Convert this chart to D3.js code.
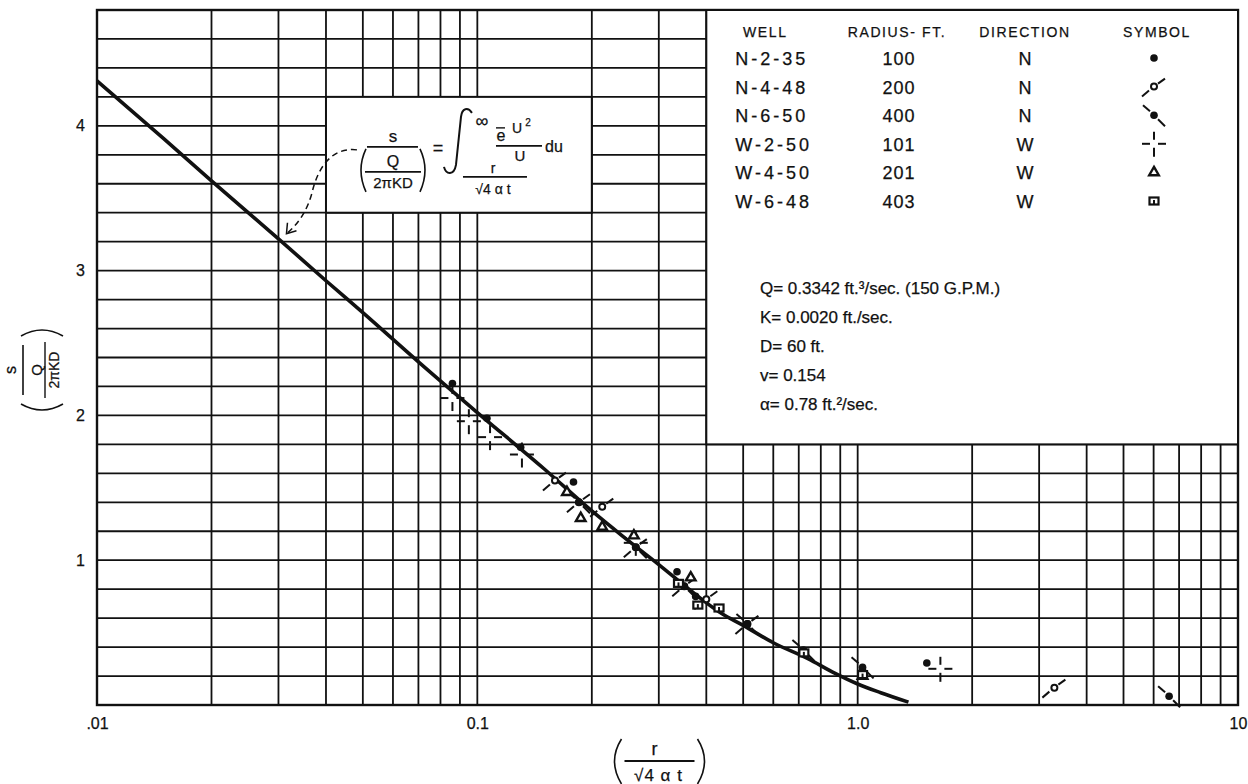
<!DOCTYPE html>
<html>
<head>
<meta charset="utf-8">
<script src="https://cdn.jsdelivr.net/npm/d3@7"></script>
<style>
body { margin: 0; background: #fff; }
text { font-family: "Liberation Sans", "DejaVu Sans", sans-serif; fill: #111; stroke: #111; stroke-width: 0.25; }
</style>
</head>
<body>
<div id="chart"></div>
<script>
// Legend table of the observation wells.
const wells = ["N-2-35", "N-4-48", "N-6-50", "W-2-50", "W-4-50", "W-6-48"];
const radii = ["100", "200", "400", "101", "201", "403"];
const directions = ["N", "N", "N", "W", "W", "W"];
const symbols = ["dot", "circleSlash", "dotBackslash", "cross", "triangle", "square"];

// Type curve (x = r/sqrt(4at), y = s/(Q/2piKD)).
const curveX = [0.01, 0.015, 0.02, 0.03, 0.04, 0.05, 0.07, 0.1, 0.15, 0.2, 0.24, 0.3, 0.36, 0.44, 0.5, 0.6, 0.74, 0.87, 1.0, 1.15, 1.36];
const curveY = [4.31, 3.91, 3.62, 3.22, 2.93, 2.71, 2.37, 2.02, 1.63, 1.34, 1.17, 0.97, 0.80, 0.63, 0.55, 0.43, 0.32, 0.22, 0.145, 0.085, 0.02];

// Observed points for each well, [x, y].
const n235 = [[0.086, 2.22], [0.106, 1.98], [0.130, 1.78], [0.179, 1.54], [0.335, 0.92], [0.375, 0.75], [1.03, 0.24], [1.52, 0.29]];
const n448 = [[0.160, 1.55], [0.185, 1.40], [0.213, 1.37], [0.261, 1.09], [0.350, 0.82], [0.400, 0.73], [0.513, 0.56], [3.29, 0.12]];
const n650 = [[0.185, 1.40], [0.261, 1.09], [0.350, 0.82], [0.513, 0.56], [0.72, 0.38], [1.03, 0.26], [6.59, 0.06]];
const w250 = [[0.086, 2.12], [0.095, 1.96], [0.108, 1.85], [0.131, 1.73], [0.261, 1.12], [1.65, 0.25]];
const w450 = [[0.172, 1.47], [0.187, 1.29], [0.213, 1.23], [0.258, 1.17], [0.364, 0.88], [1.03, 0.20]];
const w648 = [[0.338, 0.84], [0.380, 0.69], [0.432, 0.67], [0.722, 0.36], [1.03, 0.21]];
const wellPoints = [n235, n448, n650, w250, w450, w648];

// Axis ticks.
const xTicks = [0.01, 0.1, 1, 10];
const xTickLabels = [".01", "0.1", "1.0", "10"];
const yTicks = [1, 2, 3, 4];

// Well constants printed on the chart.
const constants = ["Q= 0.3342 ft.³/sec. (150 G.P.M.)", "K= 0.0020 ft./sec.", "D= 60 ft.", "v= 0.154", "α= 0.78 ft.²/sec."];

const width = 1248;
const height = 784;
const margin = { top: 10, right: 10, bottom: 79, left: 97 };

const svg = d3.select("#chart")
    .append("svg")
    .attr("width", width)
    .attr("height", height);

svg.append("rect").attr("width", width).attr("height", height).attr("fill", "#fff");

const x = d3.scaleLog()
    .domain([0.01, 10])
    .range([margin.left, width - margin.right]);

const y = d3.scaleLinear()
    .domain([0, 4.8])
    .range([height - margin.bottom, margin.top]);

// Log paper grid.
const xGrid = [];
[0.01, 0.1, 1].forEach(function(dec) {
    for (let k = 1; k < 10; k++) xGrid.push(k * dec);
});
xGrid.push(10);
const yGrid = d3.range(0, 4.81, 0.2);

const grid = svg.append("g").attr("stroke", "#111").attr("stroke-width", 1.8);
grid.selectAll(".vx")
    .data(xGrid)
    .join("line")
    .attr("x1", d => x(d)).attr("x2", d => x(d))
    .attr("y1", y(0)).attr("y2", y(4.8));
grid.selectAll(".hy")
    .data(yGrid)
    .join("line")
    .attr("x1", x(0.01)).attr("x2", x(10))
    .attr("y1", d => y(d)).attr("y2", d => y(d));

// Frame.
svg.append("rect")
    .attr("x", x(0.01)).attr("y", y(4.8))
    .attr("width", x(10) - x(0.01)).attr("height", y(0) - y(4.8))
    .attr("fill", "none").attr("stroke", "#111").attr("stroke-width", 2.4);

// White boxes for the legend table and the formula.
svg.append("rect")
    .attr("x", x(0.4)).attr("y", y(4.8))
    .attr("width", x(10) - x(0.4)).attr("height", y(1.8) - y(4.8))
    .attr("fill", "#fff").attr("stroke", "#111").attr("stroke-width", 2);
svg.append("rect")
    .attr("x", x(0.04)).attr("y", y(4.2))
    .attr("width", x(0.2) - x(0.04)).attr("height", y(3.4) - y(4.2))
    .attr("fill", "#fff").attr("stroke", "#111").attr("stroke-width", 2);

// Type curve.
const line = d3.line()
    .x(d => x(d[0]))
    .y(d => y(d[1]))
    .curve(d3.curveMonotoneX);
svg.append("path")
    .datum(curveX.map((v, i) => [v, curveY[i]]))
    .attr("d", line)
    .attr("fill", "none")
    .attr("stroke", "#111")
    .attr("stroke-width", 3.6);

// Draw one symbol of a given type centred at cx, cy.
function drawSymbol(parent, type, cx, cy) {
    const g = parent.append("g")
        .attr("transform", `translate(${cx},${cy})`)
        .attr("stroke", "#111").attr("stroke-width", 2).attr("fill", "#111");
    function seg(a, b, c, d) {
        g.append("line").attr("x1", a).attr("y1", b).attr("x2", c).attr("y2", d);
    }
    if (type === "dot") {
        g.append("circle").attr("r", 3.8).attr("stroke", "none");
    } else if (type === "circleSlash") {
        seg(-12, 10, -5, 4);
        seg(4, -3, 11, -8);
        g.append("circle").attr("r", 3).attr("fill", "#fff");
    } else if (type === "dotBackslash") {
        seg(-11, -10, -4, -4);
        seg(4, 4, 11, 11);
        g.append("circle").attr("r", 3.8).attr("stroke", "none");
    } else if (type === "cross") {
        seg(-12, 0, -4, 0);
        seg(4, 0, 12, 0);
        seg(0, -12, 0, -4);
        seg(0, 4, 0, 13);
    } else if (type === "triangle") {
        g.append("path").attr("d", d3.symbol(d3.symbolTriangle, 40)()).attr("fill", "#fff").attr("stroke-width", 2.4);
    } else if (type === "square") {
        g.append("rect").attr("x", -4.5).attr("y", -3.5).attr("width", 9).attr("height", 7).attr("fill", "#fff").attr("stroke-width", 2.2);
        seg(0, -1, 0, 3);
    }
}

// Observed points.
const pts = svg.append("g");
wellPoints.forEach(function(series, i) {
    series.forEach(function(p) {
        drawSymbol(pts, symbols[i], x(p[0]), y(p[1]));
    });
});

// Legend table.
const lg = svg.append("g");
const colWell = x(0.4) + 29;
const colRadius = 899;
const colDir = 1025;
const colSym = 1154;
const headY = 37;
const rowY = i => 65 + i * 28.6;
[["WELL", colWell + 30], ["RADIUS- FT.", colRadius - 2], ["DIRECTION", colDir], ["SYMBOL", colSym + 3]].forEach(function(h) {
    lg.append("text").attr("x", h[1]).attr("y", headY)
        .attr("text-anchor", "middle").attr("font-size", 14).attr("letter-spacing", 1.6)
        .text(h[0]);
});
wells.forEach(function(w, i) {
    lg.append("text").attr("x", colWell).attr("y", rowY(i))
        .attr("font-size", 18).attr("letter-spacing", 3).text(w);
    lg.append("text").attr("x", colRadius).attr("y", rowY(i))
        .attr("text-anchor", "middle").attr("font-size", 18).attr("letter-spacing", 1).text(radii[i]);
    lg.append("text").attr("x", colDir).attr("y", rowY(i))
        .attr("text-anchor", "middle").attr("font-size", 18).text(directions[i]);
    drawSymbol(lg, symbols[i], colSym, rowY(i) - 7);
});

// Well constants.
constants.forEach(function(c, i) {
    svg.append("text")
        .attr("x", 760).attr("y", 294 + i * 29)
        .attr("font-size", 17)
        .text(c);
});

// Formula inside its box.
const fx = x(0.04);
const fy = y(4.2);
const fm = svg.append("g").attr("transform", `translate(${fx},${fy})`);
function ftext(tx, ty, size, str, anchor) {
    return fm.append("text").attr("x", tx).attr("y", ty).attr("font-size", size)
        .attr("text-anchor", anchor || "middle").text(str);
}
function fline(a, b, c, d, w) {
    fm.append("line").attr("x1", a).attr("y1", b).attr("x2", c).attr("y2", d)
        .attr("stroke", "#111").attr("stroke-width", w || 1.6);
}
ftext(67, 45, 17, "s");
fline(41, 50, 92, 50);
ftext(67, 70, 16, "Q");
fline(39, 75, 95, 75);
ftext(67, 91, 15, "2πKD");
fm.append("path").attr("d", "M40,52 Q30,73 40,95").attr("fill", "none").attr("stroke", "#111").attr("stroke-width", 1.6);
fm.append("path").attr("d", "M94,52 Q104,73 94,95").attr("fill", "none").attr("stroke", "#111").attr("stroke-width", 1.6);
ftext(112, 57, 18, "=");
fm.append("path").attr("d", "M118,70 C120,78 128,79 130,68 L135,20 C136,11 142,10 146,16")
    .attr("fill", "none").attr("stroke", "#111").attr("stroke-width", 2);
ftext(156, 30, 18, "∞");
ftext(175, 44, 16, "e");
fline(170, 31, 179, 31, 1.4);
ftext(191, 36, 14, "U");
ftext(202, 29, 10, "2");
fline(170, 49, 216, 49);
ftext(194, 64, 15, "U");
ftext(219, 55, 16, "du", "start");
ftext(167, 76, 14, "r");
fline(137, 80, 201, 80);
ftext(167, 97, 14, "√4 α t");

// Dashed pointer from the formula to the curve.
const tip = [x(0.03) + 8, y(3.22) - 5];
svg.append("path")
    .attr("d", `M${fx + 31},${fy + 53} C${fx + 6},${fy + 50} ${fx - 8},${fy + 70} ${fx - 14},${fy + 96} C${fx - 19},${fy + 115} ${tip[0] + 10},${tip[1] - 8} ${tip[0]},${tip[1]}`)
    .attr("fill", "none").attr("stroke", "#111").attr("stroke-width", 1.5).attr("stroke-dasharray", "6,4");
svg.append("path")
    .attr("d", `M${tip[0] + 1},${tip[1] - 11} L${tip[0]},${tip[1]} L${tip[0] + 10},${tip[1] - 3}`)
    .attr("fill", "none").attr("stroke", "#111").attr("stroke-width", 1.5);

// Axes: tick labels only, the grid already draws the lines.
const xAxis = svg.append("g")
    .attr("transform", `translate(0, ${y(0) + 10})`)
    .call(d3.axisBottom(x).tickValues(xTicks).tickSize(0).tickFormat((d, i) => xTickLabels[i]));
xAxis.select(".domain").remove();
xAxis.selectAll("text").attr("font-size", 16).attr("font-family", "Liberation Sans, DejaVu Sans, sans-serif").attr("fill", "#111");

const yAxis = svg.append("g")
    .attr("transform", `translate(${x(0.01) - 9}, 0)`)
    .call(d3.axisLeft(y).tickValues(yTicks).tickSize(0).tickFormat(d3.format("d")));
yAxis.select(".domain").remove();
yAxis.selectAll("text").attr("font-size", 16).attr("font-family", "Liberation Sans, DejaVu Sans, sans-serif").attr("fill", "#111");

// X-axis label: ( r / sqrt(4at) ).
const xl = svg.append("g").attr("transform", `translate(${(x(0.01) + x(10)) / 2 - 11}, 761)`);
xl.append("text").attr("x", -2).attr("y", -6).attr("text-anchor", "middle").attr("font-size", 18).text("r");
xl.append("line").attr("x1", -32).attr("x2", 38).attr("y1", 0).attr("y2", 0).attr("stroke", "#111").attr("stroke-width", 1.8);
xl.append("text").attr("x", 2).attr("y", 20).attr("text-anchor", "middle").attr("font-size", 17).attr("letter-spacing", 1).text("√4 α t");
xl.append("path").attr("d", "M-35,-22 Q-49,0 -35,23").attr("fill", "none").attr("stroke", "#111").attr("stroke-width", 1.6);
xl.append("path").attr("d", "M41,-22 Q55,0 41,23").attr("fill", "none").attr("stroke", "#111").attr("stroke-width", 1.6);

// Y-axis label: s / (Q / 2piKD), rotated.
const yl = svg.append("g").attr("transform", "translate(38, 370) rotate(-90)");
yl.append("text").attr("x", 0).attr("y", -22).attr("text-anchor", "middle").attr("font-size", 16).text("s");
yl.append("line").attr("x1", -25).attr("x2", 25).attr("y1", -15).attr("y2", -15).attr("stroke", "#111").attr("stroke-width", 1.6);
yl.append("text").attr("x", 0).attr("y", 4).attr("text-anchor", "middle").attr("font-size", 15).text("Q");
yl.append("line").attr("x1", -28).attr("x2", 28).attr("y1", 7).attr("y2", 7).attr("stroke", "#111").attr("stroke-width", 1.4);
yl.append("text").attr("x", 0).attr("y", 21).attr("text-anchor", "middle").attr("font-size", 14).text("2πKD");
yl.append("path").attr("d", "M-34,-17 Q-46,4 -34,25").attr("fill", "none").attr("stroke", "#111").attr("stroke-width", 1.6);
yl.append("path").attr("d", "M34,-17 Q46,4 34,25").attr("fill", "none").attr("stroke", "#111").attr("stroke-width", 1.6);
</script>
</body>
</html>
